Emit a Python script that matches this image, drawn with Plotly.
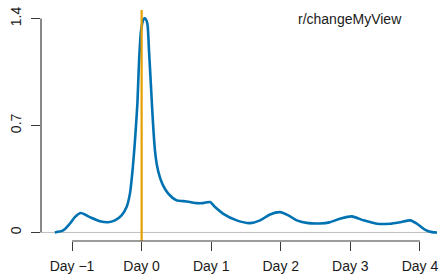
import plotly.graph_objects as go

# density curve (day offset vs density)
days = [-1.247, -1.128, -1.032, -0.960, -0.873, -0.744, -0.600, -0.481, -0.384, -0.288,
        -0.216, -0.168, -0.135, -0.106, -0.082, -0.060, -0.039, -0.010, 0.023, 0.047,
        0.081, 0.105, 0.134, 0.163, 0.191, 0.220, 0.263, 0.306, 0.383, 0.504,
        0.599, 0.695, 0.790, 0.886, 0.983, 1.055, 1.174, 1.367, 1.558, 1.702,
        1.846, 1.990, 2.109, 2.230, 2.397, 2.560, 2.700, 2.853, 3.022, 3.189,
        3.381, 3.573, 3.717, 3.861, 3.957, 4.076, 4.173, 4.253]
density = [0.000, 0.013, 0.057, 0.100, 0.127, 0.100, 0.074, 0.067, 0.079, 0.112,
           0.166, 0.254, 0.385, 0.538, 0.691, 0.850, 1.096, 1.314, 1.391, 1.402,
           1.370, 1.200, 0.960, 0.720, 0.540, 0.440, 0.360, 0.310, 0.254, 0.210,
           0.205, 0.199, 0.192, 0.192, 0.199, 0.166, 0.122, 0.079, 0.061, 0.079,
           0.118, 0.133, 0.112, 0.079, 0.061, 0.059, 0.066, 0.090, 0.105, 0.079,
           0.057, 0.057, 0.067, 0.079, 0.057, 0.017, 0.002, 0.000]

x_tick_vals = [-1, 0, 1, 2, 3, 4]
x_tick_text = ["Day \u22121", "Day 0", "Day 1", "Day 2", "Day 3", "Day 4"]
y_tick_vals = [0, 0.7, 1.4]
y_tick_text = ["0", "0.7", "1.4"]
title_text = "r/changeMyView"
event_day = 0

FONT = "Liberation Sans, Arial, sans-serif"
AX = "#3a3a3a"

fig = go.Figure()
fig.add_trace(go.Scatter(x=days, y=density, mode="lines",
                         line=dict(color="#0072B2", width=2.6, shape="spline", smoothing=0.7),
                         hoverinfo="skip", showlegend=False))

fig.add_shape(type="line", xref="paper", yref="y", x0=0, x1=1, y0=0, y1=0,
              line=dict(color="#BEBEBE", width=1), layer="below")
fig.add_shape(type="line", xref="x", yref="paper", x0=event_day, x1=event_day, y0=0, y1=1,
              line=dict(color="#E69F00", width=2.2), layer="above")
# axis lines spanning tick range (base-R style)
fig.add_shape(type="line", xref="paper", yref="y", x0=0, x1=0, y0=y_tick_vals[0], y1=y_tick_vals[-1],
              line=dict(color=AX, width=1.2))
fig.add_shape(type="line", xref="x", yref="paper", x0=x_tick_vals[0], x1=x_tick_vals[-1], y0=0, y1=0,
              line=dict(color=AX, width=1.2))

fig.add_annotation(x=3, y=1.4, xref="x", yref="y", text=title_text, showarrow=False,
                   font=dict(family=FONT, size=14, color="#1a1a1a"), xanchor="center", yanchor="middle")

fig.update_xaxes(range=[-1.446, 4.245], tickvals=x_tick_vals, ticktext=x_tick_text,
                 ticks="outside", ticklen=9, tickwidth=1.2, tickcolor=AX, automargin=False,
                 showline=False, showgrid=False, zeroline=False,
                 tickfont=dict(family=FONT, size=14, color="#1a1a1a"), ticklabelstandoff=3)
fig.update_yaxes(range=[-0.056, 1.456], tickvals=y_tick_vals, ticktext=y_tick_text,
                 ticks="outside", ticklen=9, tickwidth=1.2, tickcolor=AX, tickangle=-90,
                 automargin=False,
                 showline=False, showgrid=False, zeroline=False,
                 tickfont=dict(family=FONT, size=14, color="#1a1a1a"), ticklabelstandoff=4)

fig.update_layout(width=440, height=274, margin=dict(l=41, r=3, t=10, b=33),
                  plot_bgcolor="white", paper_bgcolor="white")

fig.write_html("out.html", config={"displayModeBar": False},
               post_script="document.body.style.margin='0';document.body.style.overflow='hidden';")
